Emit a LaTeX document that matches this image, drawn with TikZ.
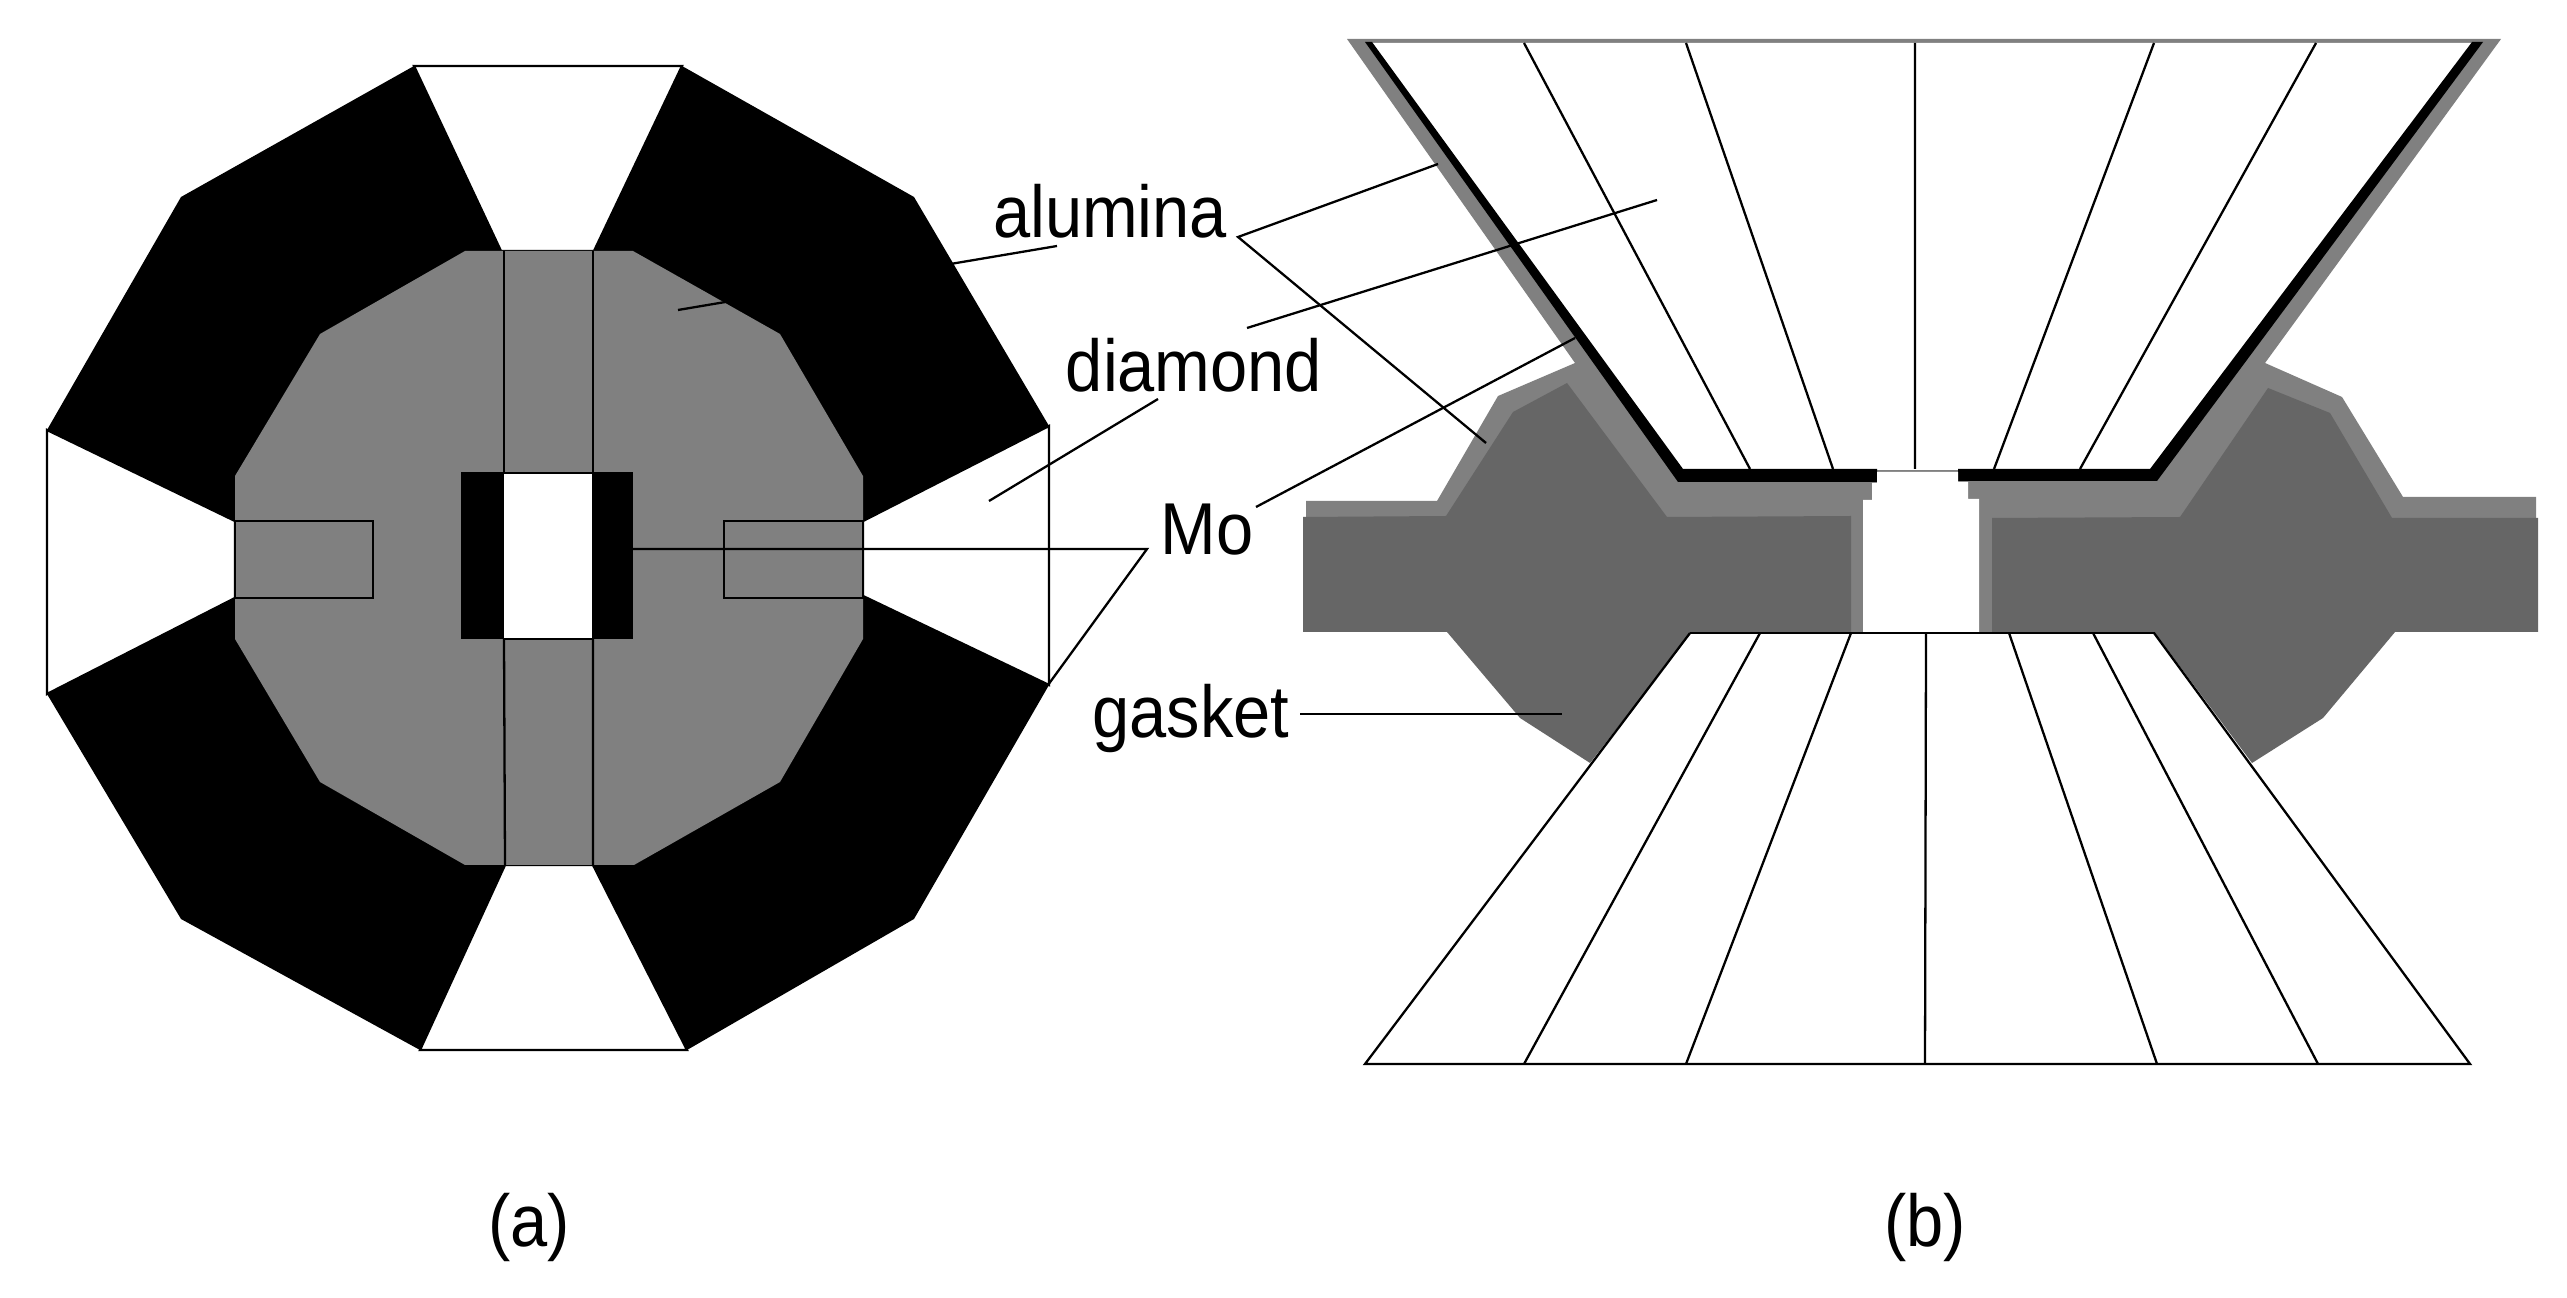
\documentclass[tikz,border=0pt]{standalone}
\usepackage{fontspec}
\setmainfont{Liberation Sans}
\definecolor{midgray}{HTML}{808080}
\definecolor{darkgray2}{HTML}{666666}
\tikzset{
  thin line/.style={draw=black,line width=0.65pt},
  lab/.style={inner sep=0pt,anchor=base,font=\fontsize{19}{22}\selectfont,text=black,yscale=1.1},
  black fill/.style={fill=black,draw=none},
  gray fill/.style={fill=midgray,draw=none},
  dark fill/.style={fill=darkgray2,draw=none},
  white fill/.style={fill=white,draw=none},
  wedge/.style={fill=white,draw=black,line width=0.65pt,line join=miter}
}
\begin{document}
\begin{tikzpicture}[x=0.01cm,y=-0.01cm]
\useasboundingbox[fill=white] (0,0) rectangle (2567,1298);
%% ---- (a) ----
\fill[black fill] (414,66)--(682,66)--(914,197)--(1049,426)--(1049,685)--(914,919)--(687,1050)--(420,1050)--(181,919)--(47,694)--(47,430)--(181,197)--cycle;
\filldraw[wedge] (414,66)--(682,66)--(594,251)--(501,251)--cycle;
\filldraw[wedge] (505,865)--(593,865)--(687,1050)--(420,1050)--cycle;
\filldraw[wedge] (47,430)--(235,521)--(235,598)--(47,694)--cycle;
\filldraw[wedge] (1049,426)--(863,521)--(863,596)--(1049,685)--cycle;
\fill[gray fill] (465,251)--(633,251)--(780,334)--(863,476)--(863,639)--(780,782)--(634,865)--(465,865)--(320,782)--(235,639)--(235,476)--(320,334)--cycle;
\fill[black fill] (461,472) rectangle (633,639);
\fill[white fill] (504,474) rectangle (592,639);
\draw[thin line] (504,251)--(504,474) (593,251)--(593,474);
\draw[thin line] (504,639)--(505,865) (593,639)--(593,865);
\draw[thin line] (504,639)--(592,639);
\draw[thin line] (235,521) rectangle (373,598);
\draw[thin line] (724,521) rectangle (863,598);
%% ---- (b) ----
\fill[gray fill] (1347,39)--(1575,363)--(1498,396)--(1437,501)--(1306,501)--(1306,520)--(1851,520)--(1851,632)--(1992,632)--(1992,520)--(2536,520)--(2536,497)--(2403,497)--(2342,397)--(2265,363)--(2501,39)--cycle;
\fill[white fill] (1372,43)--(2478,43)--(2150,470)--(1683,470)--cycle;
\fill[dark fill] (1303,517)--(1446,516)--(1513,412)--(1567,383)--(1667,517)--(1851,516)--(1851,632)--(1691,633)--(1590,763)--(1520,718)--(1447,632)--(1303,632)--cycle;
\fill[dark fill] (1992,518)--(2180,517)--(2268,388)--(2330,413)--(2392,518)--(2538,518)--(2538,632)--(2395,632)--(2323,718)--(2252,763)--(2155,633)--(1992,632)--cycle;
\fill[black fill] (1365,42)--(1372,42)--(1683,469)--(1877,469)--(1877,482)--(1678,482)--cycle;
\fill[black fill] (2472,42)--(2483,42)--(2157,481)--(1958,481)--(1958,469)--(2150,469)--cycle;
\fill[white fill] (1863,633)--(1863,500)--(1872,500)--(1872,483)--(1877,483)--(1877,472)--(1958,472)--(1958,482)--(1968,482)--(1968,499)--(1979,499)--(1979,633)--cycle;
% upper anvil segments
\draw[thin line] (1524,43)--(1750,469) (1686,43)--(1833,469) (1915,43)--(1915,469) (2154,43)--(1994,469) (2316,43)--(2080,469);
% lower anvil
\draw[thin line] (1690,633)--(2155,633);
\draw[thin line] (1690,633)--(1365,1064)--(2470,1064)--(2154,633);
\draw[thin line] (1760,633)--(1524,1064) (1851,633)--(1686,1064) (1926,633)--(1925,1064) (2009,633)--(2157,1064) (2093,633)--(2318,1064);
%% ---- labels ----
\node[lab] (alumina) at (1110,238) {alumina};
\node[lab] (diamond) at (1194,392) {diamond};
\node[lab] (mo) at (1207,555) {Mo};
\node[lab] (gasket) at (1191,738) {gasket};
\node[lab] (capa) at (529,1246) {(a)};
\node[lab] (capb) at (1925,1246) {(b)};
%% ---- leaders ----
\coordinate (al0) at (1057,246);
\coordinate (al1) at (678,310);
\coordinate (alhub) at (1238,237);
\coordinate (al2) at (1438,164);
\coordinate (al3) at (1486,443);
\coordinate (di0) at (1158,399);
\coordinate (di1) at (989,501);
\coordinate (di2) at (1247,328);
\coordinate (di3) at (1657,200);
\coordinate (mohub) at (1147,549);
\coordinate (mo1) at (633,549);
\coordinate (mo2) at (1048,685);
\coordinate (mo3) at (1256,507);
\coordinate (mo4) at (1575,338);
\coordinate (ga0) at (1300,714);
\coordinate (ga1) at (1562,714);
\draw[thin line] (al0)--(al1);
\draw[thin line] (al2)--(alhub)--(al3);
\draw[thin line] (di0)--(di1);
\draw[thin line] (di2)--(di3);
\draw[thin line] (mo1)--(mohub)--(mo2);
\draw[thin line] (mo3)--(mo4);
\draw[thin line] (ga0)--(ga1);
\end{tikzpicture}
\end{document}
